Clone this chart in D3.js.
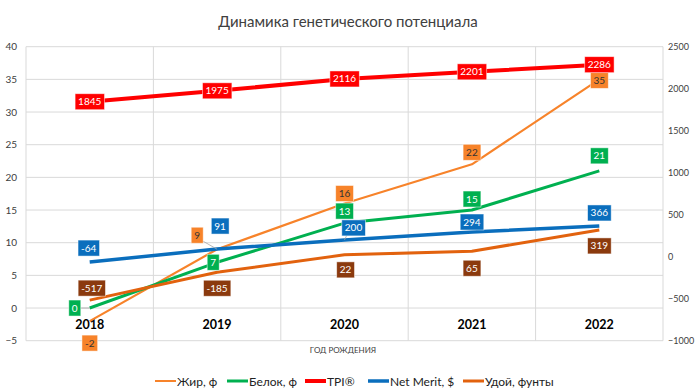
<!DOCTYPE html>
<html><head><meta charset="utf-8">
<script src="https://cdn.jsdelivr.net/npm/d3@7"></script>
<style>
body{margin:0;background:#fff;}
svg{font-family:Lato,"Open Sans",sans-serif;}
</style></head>
<body><svg id="c" width="695" height="391"></svg>
<script>
const years = ["2018","2019","2020","2021","2022"];
const fat = [-2, 9, 16, 22, 35];
const protein = [0, 7, 13, 15, 21];
const tpi = [1845, 1975, 2116, 2201, 2286];
const netMerit = [-64, 91, 200, 294, 366];
const milk = [-517, -185, 22, 65, 319];
const leftTicks = [-5, 0, 5, 10, 15, 20, 25, 30, 35, 40];
const rightTicks = [-1000, -500, 0, 500, 1000, 1500, 2000, 2500];
const seriesNames = ["Жир, ф", "Белок, ф", "TPI®", "Net Merit, $", "Удой, фунты"];

// layout / style (not data)
const labelOffsets = {
  fat: [[0,22],[-20,-14],[0,-10],[0,-12],[0,1]],
  protein: [[-15,0],[-4,0],[0,-12],[0,-11],[0,-15]],
  tpi: [[0,0],[0,0],[0,0],[0,0],[0,0]],
  nm: [[-1,-14],[3,-23],[9,-12],[0,-10],[0,-13]],
  milk: [[2,-12],[0,16],[1,15],[0,17],[0,16]]
};
const leaders = {fat:[1], protein:[0], nm:[2]};

const svg = d3.select("#c");
const L = 26, R = 663, T = 46.7, B = 340.7;
const x = d3.scaleBand().domain(years).range([L, R]);
const cx = d => x(d) + x.bandwidth()/2;
const yL = d3.scaleLinear().domain([-5, 40]).range([B, T]);
const yR = d3.scaleLinear().domain([-1000, 2500]).range([B, T]);

// gridlines
const g = svg.append("g");
g.selectAll("line.h").data(leftTicks).join("line")
  .attr("x1", L).attr("x2", R).attr("y1", d=>yL(d)).attr("y2", d=>yL(d))
  .attr("stroke", "#d9d9d9").attr("stroke-width", 1);
const vb = years.map(d=>x(d)).concat([R]);
g.selectAll("line.v").data(vb).join("line")
  .attr("x1", d=>d).attr("x2", d=>d).attr("y1", T).attr("y2", B)
  .attr("stroke", "#d9d9d9").attr("stroke-width", 1);

// title
svg.append("text").attr("x", 348).attr("y", 27).attr("text-anchor","middle")
  .attr("font-size", 15).attr("fill", "#404040").text("Динамика генетического потенциала");

// left axis
const ax = svg.append("g").attr("transform", `translate(${L},0)`)
  .call(d3.axisLeft(yL).tickValues(leftTicks).tickSize(0).tickPadding(9));
ax.select(".domain").remove();
ax.selectAll("text").attr("font-size", 10).attr("fill", "#404040").attr("font-family","Lato, sans-serif");

// right axis
const ar = svg.append("g").attr("transform", `translate(${R},0)`)
  .call(d3.axisRight(yR).tickValues(rightTicks).tickFormat(d3.format("d")).tickSize(0).tickPadding(5));
ar.select(".domain").remove();
ar.selectAll("text").attr("font-size", 9).attr("fill", "#404040").attr("font-family","Lato, sans-serif");

// category axis labels
const ab = svg.append("g").attr("transform", `translate(0,${yL(0)})`)
  .call(d3.axisBottom(x).tickSize(0).tickPadding(12));
ab.select(".domain").remove();
ab.selectAll("text").attr("font-size", 12.5).attr("font-weight", "bold").attr("fill", "#000").attr("font-family","Lato, sans-serif");

// axis title
svg.append("text").attr("x", 343).attr("y", 353).attr("text-anchor","middle")
  .attr("font-size", 8).attr("fill", "#404040").text("ГОД РОЖДЕНИЯ");

const series = [
  {key:"fat", vals:fat, y:yL, color:"#F7832A", w:2.2, box:"#F7832A", txt:"#333"},
  {key:"protein", vals:protein, y:yL, color:"#00B050", w:3, box:"#00B050", txt:"#fff"},
  {key:"milk", vals:milk, y:yR, color:"#E2620E", w:3, box:"#8B3A0E", txt:"#fff"},
  {key:"nm", vals:netMerit, y:yR, color:"#0A6EBD", w:3.5, box:"#0A6EBD", txt:"#fff"},
  {key:"tpi", vals:tpi, y:yR, color:"#FF0000", w:4, box:"#FF0000", txt:"#fff"}
];

const line = (ys) => d3.line().x((d,i)=>cx(years[i])).y(d=>ys(d));
series.forEach(s => {
  svg.append("path").datum(s.vals).attr("d", line(s.y))
    .attr("fill","none").attr("stroke", s.color).attr("stroke-width", s.w)
    .attr("stroke-linejoin","round");
});

// labels
const drawOrder = ["fat","protein","milk","nm","tpi"];
drawOrder.forEach(k => {
  const s = series.find(q=>q.key===k);
  s.vals.forEach((v,i) => {
    const px = cx(years[i]), py = s.y(v);
    const [dx,dy] = labelOffsets[k][i];
    const lx = px+dx, ly = py+dy;
    if ((leaders[k]||[]).includes(i)) {
      svg.append("line").attr("x1", lx + (dx<0?6:-6)).attr("y1", ly + (dy<0?6:0))
        .attr("x2", px).attr("y2", py).attr("stroke","#a6a6a6").attr("stroke-width",0.8);
    }
    const gl = svg.append("g");
    const t = gl.append("text").attr("x", lx).attr("y", ly+3.5).attr("text-anchor","middle")
      .attr("font-size", 10).attr("fill", s.txt).attr("font-family","Lato, sans-serif").text(v);
    const bb = t.node().getBBox();
    gl.insert("rect","text").attr("x", bb.x-3).attr("y", ly-8).attr("width", bb.width+6).attr("height", 16)
      .attr("fill", s.box).attr("stroke","#fff").attr("stroke-opacity",0.6).attr("stroke-width",0.8);
  });
});

// legend
const legItems = [
  {name:seriesNames[0], color:"#F7832A", w:2, x:155},
  {name:seriesNames[1], color:"#00B050", w:3, x:227},
  {name:seriesNames[2], color:"#FF0000", w:4, x:305},
  {name:seriesNames[3], color:"#0A6EBD", w:3.5, x:368},
  {name:seriesNames[4], color:"#E2620E", w:3, x:463}
];
const lg = svg.append("g");
legItems.forEach(it => {
  lg.append("line").attr("x1", it.x).attr("x2", it.x+21).attr("y1", 381).attr("y2", 381)
    .attr("stroke", it.color).attr("stroke-width", it.w);
  lg.append("text").attr("x", it.x+22).attr("y", 385.5).attr("font-size", 12)
    .attr("fill","#222").text(it.name);
});
</script></body></html>
